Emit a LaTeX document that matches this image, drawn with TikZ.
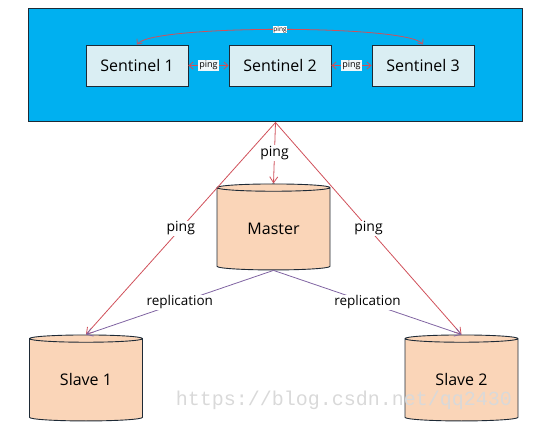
\documentclass[tikz,border=0pt]{standalone}
\usepackage{fontspec}
\setmainfont{Open Sans}
\setmonofont{Liberation Mono}
\usetikzlibrary{shapes.geometric,arrows.meta}
\definecolor{skyblue}{HTML}{00B0F0}
\definecolor{paleblue}{HTML}{DAEEF3}
\definecolor{peach}{HTML}{FAD5B8}
\definecolor{pingred}{HTML}{D0505A}
\definecolor{replpurple}{HTML}{8064A2}
\definecolor{edge}{HTML}{1E2A36}
\begin{document}
\begin{tikzpicture}[x=1pt,y=-1pt,
        sentbox/.style={draw=edge,line width=0.9pt,fill=paleblue,minimum width=102pt,minimum height=41pt,font=\fontsize{16}{18}\selectfont},
        db/.style={cylinder,shape border rotate=90,aspect=0.14,draw=edge,line width=0.9pt,fill=peach,minimum width=113pt,minimum height=86pt,inner sep=0pt,font=\fontsize{16}{18}\selectfont},
        ping/.style={draw=pingred,line width=0.8pt,-{Straight Barb[length=6pt,width=8pt]}},
        repl/.style={draw=replpurple,line width=0.8pt,-{Straight Barb[length=6pt,width=8pt]}},
        both/.style={draw=pingred,line width=0.8pt,{Straight Barb[length=4pt,width=7pt]}-{Straight Barb[length=4pt,width=7pt]}},
        lbl/.style={fill=white,text=black,inner sep=1pt,font=\fontsize{13.5}{15}\selectfont}]
    \useasboundingbox (0,0) rectangle (550,435);
    \node[draw=edge,line width=1pt,fill=skyblue,minimum width=494pt,minimum height=113pt,inner sep=0pt] (cluster) at (275.5,65.5) {};
    \node[sentbox] (s1) at (137,65.5) {Sentinel 1};
    \node[sentbox] (s2) at (280,65.5) {Sentinel 2};
    \node[sentbox] (s3) at (423,65.5) {Sentinel 3};
    \node[db] (master) at (273.5,229) {Master};
    \node[db] (slave1) at (86,380) {Slave 1};
    \node[db] (slave2) at (461.5,380) {Slave 2};
    \draw[both] (s1.north) .. controls +(15,-20) and +(-15,-20) .. (s3.north)
        node[pos=0.5,lbl,inner sep=0.5pt,font=\fontsize{6.5}{7}\selectfont] {ping};
    \draw[both] (s1) -- (s2) node[midway,lbl,fill=paleblue!40,font=\fontsize{9}{10}\selectfont] {ping};
    \draw[both] (s2) -- (s3) node[midway,lbl,fill=paleblue!40,font=\fontsize{9}{10}\selectfont] {ping};
    \draw[ping] (cluster.south) -- (master.top) node[midway,lbl,font=\fontsize{14}{16}\selectfont] {ping};
    \draw[ping] (cluster.south) -- (slave1.top) node[midway,lbl,font=\fontsize{14}{16}\selectfont] {ping};
    \draw[ping] (cluster.south) -- (slave2.top) node[midway,lbl,font=\fontsize{14}{16}\selectfont] {ping};
    \draw[repl] (master.bottom) -- (slave1.top) node[midway,lbl] {replication};
    \draw[repl] (master.bottom) -- (slave2.top) node[midway,lbl] {replication};
    \node[text=black!15,font=\ttfamily\fontsize{20}{22}\selectfont] (mark) at (344,400) {https://blog.csdn.net/qq2430};
\end{tikzpicture}
\end{document}
